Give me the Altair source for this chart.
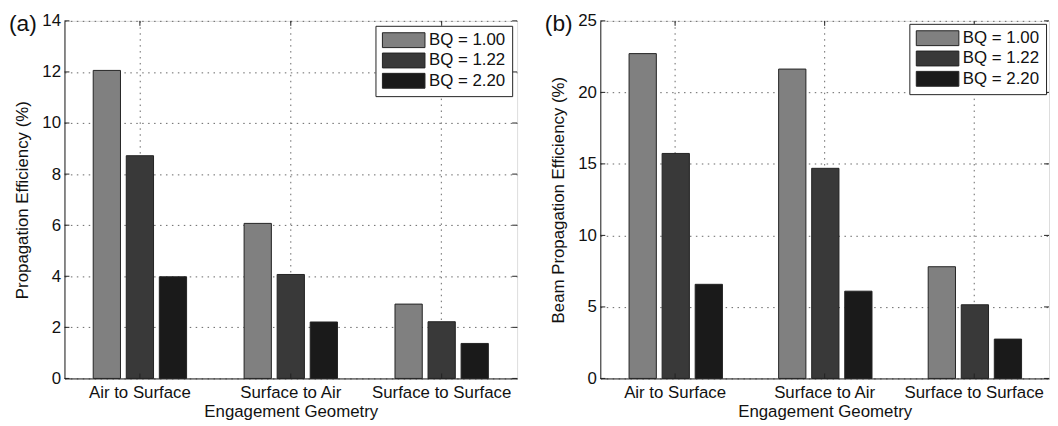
import altair as alt
import pandas as pd

# ---------------- data ----------------
categories = ["Air to Surface", "Surface to Air", "Surface to Surface"]
series = ["BQ = 1.00", "BQ = 1.22", "BQ = 2.20"]
colors = ["#808080", "#393939", "#1a1a1a"]

# panel (a): Propagation Efficiency (%)
a_bq100 = [12.06, 6.07, 2.91]
a_bq122 = [8.72, 4.07, 2.22]
a_bq220 = [3.98, 2.21, 1.37]
a_ticks = [0, 2, 4, 6, 8, 10, 12, 14]

# panel (b): Beam Propagation Efficiency (%)
b_bq100 = [22.71, 21.63, 7.81]
b_bq122 = [15.73, 14.69, 5.15]
b_bq220 = [6.58, 6.10, 2.75]
b_ticks = [0, 5, 10, 15, 20, 25]

FONT = "Liberation Sans"
FS = 17
H = 361


def make_df(v1, v2, v3):
    rows = []
    for s, vals in zip(series, [v1, v2, v3]):
        for c, v in zip(categories, vals):
            rows.append({"geometry": c, "bq": s, "eff": v})
    return pd.DataFrame(rows)


def panel(df, ticks, ytitle, tag, W, loff):
    ymax = ticks[-1]
    xscale = alt.Scale(domain=categories, paddingInner=0, paddingOuter=0)
    yscale = alt.Scale(domain=[0, ymax], nice=False)

    legend = alt.Legend(
        title=None, orient="top-right", offset=loff,
        labelFontSize=FS, labelFont=FONT, labelColor="#111",
        symbolType="M-1,-1L4.73,-1L4.73,1L-1,1Z", symbolSize=225,
        symbolStrokeColor="#222", symbolStrokeWidth=1, symbolOpacity=1,
        strokeColor="#222", fillColor="white", padding=6, rowPadding=1.5,
        labelOffset=31, cornerRadius=0, labelLimit=200)

    bars = alt.Chart(df).mark_bar(stroke="#222", strokeWidth=1).encode(
        x=alt.X("geometry:N", sort=categories, scale=xscale,
                axis=alt.Axis(title="Engagement Geometry", labelAngle=0, tickSize=0,
                              labelPadding=6, titlePadding=3, grid=True,
                              gridDash=[1.5, 4.5], gridColor="#666", gridOpacity=1,
                              domainColor="#222", labelColor="#111", titleColor="#111",
                              labelFontSize=FS, titleFontSize=FS, labelFont=FONT,
                              titleFont=FONT, titleFontWeight="normal")),
        xOffset=alt.XOffset("bq:N", sort=series,
                            scale=alt.Scale(domain=series, paddingInner=0.175, paddingOuter=0.87)),
        y=alt.Y("eff:Q", scale=yscale,
                axis=alt.Axis(values=ticks, title=ytitle, tickSize=0, labelPadding=4,
                              titlePadding=10, grid=True, gridDash=[1.5, 4.5],
                              gridColor="#666", gridOpacity=1, domainColor="#222",
                              labelColor="#111", titleColor="#111", labelFontSize=FS,
                              titleFontSize=FS, labelFont=FONT, titleFont=FONT,
                              titleFontWeight="normal", format="d")),
        color=alt.Color("bq:N", sort=series,
                        scale=alt.Scale(domain=series, range=colors),
                        legend=legend),
    )

    tdf = pd.DataFrame({"t": ticks})
    ytick_l = alt.Chart(tdf).mark_rule(color="#222").encode(
        y=alt.Y("t:Q", scale=yscale), x=alt.value(0), x2=alt.value(5))
    ytick_r = alt.Chart(tdf).mark_rule(color="#222").encode(
        y=alt.Y("t:Q", scale=yscale), x=alt.value(W - 5), x2=alt.value(W))
    cdf = pd.DataFrame({"geometry": categories})
    xtick_t = alt.Chart(cdf).mark_rule(color="#222").encode(
        x=alt.X("geometry:N", sort=categories, scale=xscale), y=alt.value(0), y2=alt.value(5))
    xtick_b = alt.Chart(cdf).mark_rule(color="#222").encode(
        x=alt.X("geometry:N", sort=categories, scale=xscale), y=alt.value(H - 5), y2=alt.value(H))

    label = alt.Chart(pd.DataFrame({"tag": [tag]})).mark_text(
        fontSize=23, font=FONT, align="left", baseline="middle", color="#111"
    ).encode(x=alt.value(-56), y=alt.value(3), text="tag:N")

    return alt.layer(bars, ytick_l, ytick_r, xtick_t, xtick_b, label).properties(
        width=W, height=H)


left = panel(make_df(a_bq100, a_bq122, a_bq220), a_ticks, "Propagation Efficiency (%)", "(a)", 457, 5)
right = panel(make_df(b_bq100, b_bq122, b_bq220), b_ticks, "Beam Propagation Efficiency (%)", "(b)", 453, 3)

chart = alt.hconcat(left, right, spacing=26).resolve_scale(
    color="independent"
).resolve_legend(
    color="independent"
).properties(
    padding={"left": 0, "top": 1, "right": 0, "bottom": 0}
).configure_view(
    stroke="#222", strokeWidth=1
).configure(background="white")

chart.save("out.html", embed_options={"renderer": "svg", "actions": False})
